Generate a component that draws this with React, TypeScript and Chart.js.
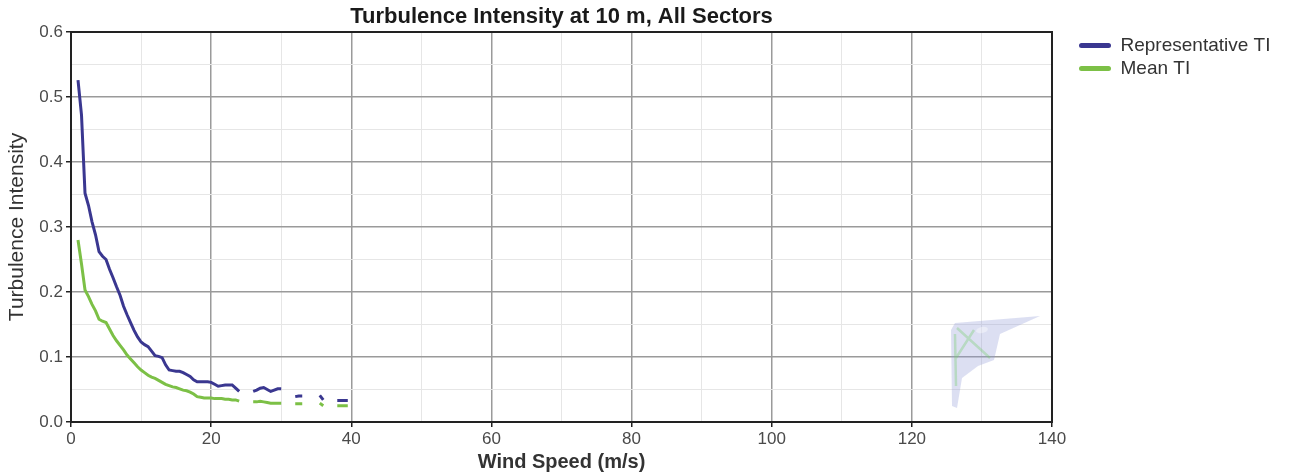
import React, { useEffect, useRef } from "react";
import { Chart, registerables } from "chart.js";

Chart.register(...registerables);

const chartTitle = "Turbulence Intensity at 10 m, All Sectors";
const xAxisTitle = "Wind Speed (m/s)";
const yAxisTitle = "Turbulence Intensity";
const seriesNames = ["Representative TI", "Mean TI"];
const seriesColors = ["#3a3790", "#7cc046"];

const windSpeed = [
  1.0, 1.5, 2.0, 2.5, 3.0, 3.5, 4.0, 4.5, 5.0, 5.5, 6.0, 6.5, 7.0, 7.5, 8.0, 8.5, 9.0, 9.5,
  10.0, 10.5, 11.0, 11.5, 12.0, 12.5, 13.0, 13.5, 14.0, 14.5, 15.0, 15.5, 16.0, 16.5, 17.0, 17.5,
  18.0, 18.5, 19.0, 19.5, 20.0, 20.5, 21.0, 21.5, 22.0, 22.5, 23.0, 23.5, 24.0, 24.5, 25.0, 25.5,
  26.0, 26.5, 27.0, 27.5, 28.0, 28.5, 29.0, 29.5, 30.0, 30.5, 31.0, 31.5, 32.0, 32.5, 33.0, 33.5,
  34.0, 34.5, 35.0, 35.5, 36.0, 36.5, 37.0, 37.5, 38.0, 38.5, 39.0, 39.5,
];

const representativeTI = [
  0.526, 0.472, 0.352, 0.333, 0.308, 0.288, 0.262, 0.255, 0.250, 0.235, 0.222, 0.208, 0.195, 0.178, 0.165, 0.153, 0.141, 0.131,
  0.123, 0.119, 0.116, 0.109, 0.102, 0.101, 0.099, 0.088, 0.080, 0.079, 0.078, 0.078, 0.076, 0.073, 0.070, 0.065,
  0.062, 0.062, 0.062, 0.062, 0.061, 0.058, 0.055, 0.056, 0.057, 0.057, 0.057, 0.052, 0.047, null, null, null,
  0.047, 0.049, 0.052, 0.053, 0.050, 0.047, 0.049, 0.051, 0.051, null, null, null, 0.039, 0.040, 0.040, null,
  null, null, null, 0.041, 0.034, null, null, null, 0.033, 0.033, 0.033, 0.033,
];

const meanTI = [
  0.280, 0.243, 0.203, 0.193, 0.181, 0.171, 0.158, 0.155, 0.153, 0.143, 0.133, 0.125, 0.118, 0.111, 0.103, 0.097, 0.091, 0.085,
  0.080, 0.076, 0.072, 0.069, 0.067, 0.064, 0.061, 0.058, 0.056, 0.054, 0.053, 0.051, 0.049, 0.048, 0.046, 0.043,
  0.039, 0.038, 0.037, 0.037, 0.037, 0.036, 0.036, 0.036, 0.035, 0.035, 0.034, 0.034, 0.032, null, null, null,
  0.031, 0.031, 0.032, 0.031, 0.030, 0.029, 0.029, 0.029, 0.029, null, null, null, 0.028, 0.028, 0.028, null,
  null, null, null, 0.029, 0.025, null, null, null, 0.025, 0.025, 0.025, 0.025,
];

const xMin = 0;
const xMax = 140;
const xStep = 10;
const yMin = 0;
const yMax = 0.6;
const yStep = 0.05;

const FONT = "'Liberation Sans', Arial, Helvetica, sans-serif";

const isMajorX = (v: number) => Math.abs(v / 20 - Math.round(v / 20)) < 1e-6;
const isMajorY = (v: number) => Math.abs(v * 10 - Math.round(v * 10)) < 1e-6;

const framePlugin = {
  id: "frame",
  afterDatasetsDraw(chart: any) {
    const { ctx, chartArea } = chart;
    const { left, top, right, bottom } = chartArea;
    ctx.save();
    // faint watermark logo in lower-right of the plot
    const ox = right;
    const oy = bottom;
    ctx.globalAlpha = 0.4;
    ctx.beginPath();
    ctx.moveTo(ox - 97, oy - 99);
    ctx.lineTo(ox - 12, oy - 106);
    ctx.lineTo(ox - 52, oy - 88);
    ctx.lineTo(ox - 58, oy - 62);
    ctx.lineTo(ox - 74, oy - 56);
    ctx.lineTo(ox - 90, oy - 44);
    ctx.lineTo(ox - 95, oy - 14);
    ctx.lineTo(ox - 100, oy - 16);
    ctx.lineTo(ox - 101, oy - 92);
    ctx.closePath();
    ctx.fillStyle = "rgba(145,155,215,0.8)";
    ctx.fill();
    ctx.strokeStyle = "rgba(120,205,110,0.9)";
    ctx.lineWidth = 2.5;
    ctx.beginPath();
    ctx.moveTo(ox - 95, oy - 94);
    ctx.lineTo(ox - 62, oy - 64);
    ctx.moveTo(ox - 96, oy - 64);
    ctx.lineTo(ox - 78, oy - 92);
    ctx.moveTo(ox - 97, oy - 88);
    ctx.lineTo(ox - 96, oy - 36);
    ctx.stroke();
    ctx.fillStyle = "rgba(255,255,255,0.95)";
    ctx.beginPath();
    ctx.ellipse(ox - 70, oy - 92, 6, 3, -0.2, 0, Math.PI * 2);
    ctx.fill();
    ctx.globalAlpha = 1;
    // frame
    ctx.strokeStyle = "#222";
    ctx.lineWidth = 2;
    ctx.strokeRect(left, top, right - left, bottom - top);
    ctx.restore();
  },
};

const legendWidthPlugin = {
  id: "legendWidth",
  beforeInit(chart: any) {
    const legend = chart.legend;
    if (!legend) return;
    const origFit = legend.fit;
    legend.fit = function () {
      origFit.call(this);
      this.width = 218;
    };
  },
};

export default function App() {
  const canvasRef = useRef<HTMLCanvasElement | null>(null);

  useEffect(() => {
    if (!canvasRef.current) return;
    const makeData = (vals: (number | null)[]) =>
      windSpeed.map((x, i) => ({ x, y: vals[i] }));

    const chart = new Chart(canvasRef.current, {
      type: "line",
      data: {
        datasets: [
          {
            label: seriesNames[0],
            data: makeData(representativeTI) as any,
            borderColor: seriesColors[0],
            backgroundColor: seriesColors[0],
            borderWidth: 3,
            pointRadius: 0,
            spanGaps: false,
            tension: 0,
          },
          {
            label: seriesNames[1],
            data: makeData(meanTI) as any,
            borderColor: seriesColors[1],
            backgroundColor: seriesColors[1],
            borderWidth: 3,
            pointRadius: 0,
            spanGaps: false,
            tension: 0,
          },
        ],
      },
      options: {
        responsive: false,
        animation: false,
        devicePixelRatio: 1,
        layout: { padding: 0 },
        plugins: {
          title: {
            display: true,
            text: chartTitle,
            fullSize: false,
            color: "#1a1a1a",
            font: { family: FONT, size: 22, weight: "bold" },
            padding: { top: 4, bottom: 1.6 },
          },
          legend: {
            display: true,
            position: "right",
            align: "start",
            fullSize: false,
            labels: {
              boxWidth: 32,
              boxHeight: 5,
              padding: 4,
              color: "#333",
              font: { family: FONT, size: 19 },
              useBorderRadius: true,
              borderRadius: 2.5,
              generateLabels: (c: any) =>
                (Chart.defaults.plugins.legend.labels.generateLabels as any)(c).map((l: any) => ({
                  ...l,
                  lineWidth: 0,
                  fillStyle: l.strokeStyle,
                })),
            } as any,
          },
          tooltip: { enabled: false },
        },
        scales: {
          x: {
            type: "linear",
            min: xMin,
            max: xMax,
            afterFit: (s: any) => {
              s.height = 54;
            },
            ticks: {
              stepSize: xStep,
              autoSkip: false,
              maxRotation: 0,
              padding: 2,
              color: "#4a4a4a",
              font: { family: FONT, size: 17 },
              callback: (v: any) => (isMajorX(Number(v)) ? String(Math.round(Number(v))) : ""),
            },
            grid: {
              color: (ctx: any) => (isMajorX(ctx.tick.value) ? "#9a9a9a" : "#e6e6e6"),
              lineWidth: (ctx: any) => (isMajorX(ctx.tick.value) ? 1.5 : 1),
              tickColor: (ctx: any) => (isMajorX(ctx.tick.value) ? "#222" : "rgba(0,0,0,0)"),
              tickLength: 5,
              drawTicks: true,
            },
            border: { display: true, color: "#222", width: 2 },
            title: {
              display: true,
              text: xAxisTitle,
              color: "#333",
              font: { family: FONT, size: 20, weight: "bold" },
              padding: { top: 0, bottom: 2 },
            },
          },
          y: {
            type: "linear",
            min: yMin,
            max: yMax,
            afterFit: (s: any) => {
              s.width = 71;
            },
            ticks: {
              stepSize: yStep,
              autoSkip: false,
              padding: 3,
              color: "#4a4a4a",
              font: { family: FONT, size: 17 },
              callback: (v: any) => (isMajorY(Number(v)) ? Number(v).toFixed(1) : ""),
            },
            grid: {
              color: (ctx: any) => (isMajorY(ctx.tick.value) ? "#9a9a9a" : "#e6e6e6"),
              lineWidth: (ctx: any) => (isMajorY(ctx.tick.value) ? 1.5 : 1),
              tickColor: (ctx: any) => (isMajorY(ctx.tick.value) ? "#222" : "rgba(0,0,0,0)"),
              tickLength: 5,
              drawTicks: true,
            },
            border: { display: true, color: "#222", width: 2 },
            title: {
              display: true,
              text: yAxisTitle,
              color: "#333",
              font: { family: FONT, size: 21 },
              padding: { top: 5, bottom: 0 },
            },
          },
          yRightSpacer: {
            type: "linear",
            position: "right",
            display: true,
            min: 0,
            max: 1,
            afterFit: (s: any) => {
              s.width = 23;
            },
            ticks: { display: false },
            grid: { display: false, drawTicks: false },
            border: { display: false },
          },
        },
      },
      plugins: [framePlugin, legendWidthPlugin],
    } as any);

    return () => chart.destroy();
  }, []);

  return (
    <div style={{ position: "absolute", left: 0, top: 0, width: 1293, height: 476, background: "#fff" }}>
      <canvas ref={canvasRef} width={1293} height={476} style={{ display: "block" }} />
    </div>
  );
}
